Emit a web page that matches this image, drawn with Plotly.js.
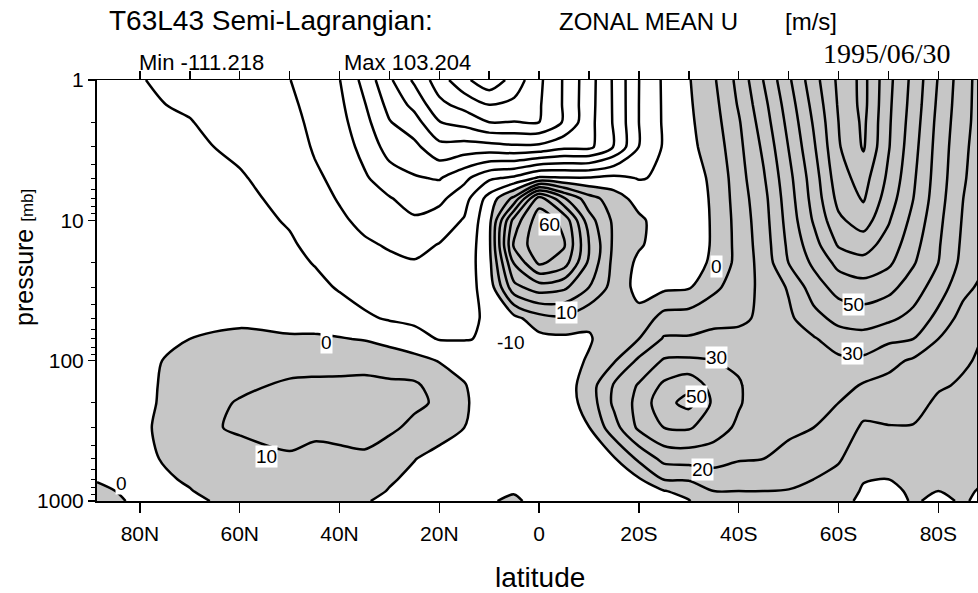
<!DOCTYPE html>
<html>
<head>
<meta charset="utf-8">
<script src="https://cdn.plot.ly/plotly-3.0.1.min.js"></script>
<style>
html,body{margin:0;padding:0;background:#fff;}
#chart{width:978px;height:593px;}
</style>
</head>
<body>
<div id="chart"></div>
<script>
// ---- data ----
const latitudes = [88.6, 80, 70, 60, 50, 45, 40, 35, 30, 25, 20, 15, 10, 5, 0, -5, -10, -15, -20, -25, -30, -35, -40, -45, -50, -55, -60, -65, -70, -75, -80, -85, -88.6];
const pressureLevels = [1, 1.5, 2, 3, 5, 7, 10, 15, 20, 30, 50, 70, 100, 150, 200, 300, 500, 700, 850, 1000];

// zonal mean U [m/s]; one array per pressure level, values ordered as latitudes
const u1mb    = [-6.5,-9.6,-12.9,-16.4,-19.8,-24.6,-29.7,-43.2,-58.3,-71.8,-85.1,-97.6,-107,-96,-82,-69,-54.2,-38.6,-20.1,-8.5,-0.7,8.7,23,40.4,58.2,76,92,103,82.8,67,49.3,34,26];
const u1p5mb  = [-6.3,-9,-10.9,-14.6,-18.2,-23.2,-27.8,-39.3,-53.1,-62.8,-77.6,-83.4,-90,-87.6,-81,-69,-53.8,-38.8,-20,-8.7,-1.3,7,21,37,55,73,91,103,82,66,48,33.5,26];
const u2mb    = [-6,-8.5,-9.7,-13.3,-17.1,-22.2,-26.5,-36.8,-49.4,-55.9,-69.7,-73.3,-80,-79.7,-80,-69,-53.3,-39,-20,-8.8,-1.8,6,19,35,53,71,90,102,81.5,65,47,33,26];
const u3mb    = [-5.7,-8,-8.6,-11.5,-15.5,-20.9,-24.6,-33.2,-43.9,-47.5,-57,-55.8,-56.2,-58.1,-57.6,-52.6,-52.5,-39.5,-19.8,-9,-2.3,4,17.5,32,50.3,68.5,89,101,80.8,63.5,46,32,25.5];
const u5mb    = [-5.3,-7.2,-7.2,-9.3,-13.5,-18.5,-22.3,-28.7,-35.5,-39.1,-40.8,-32.5,-21.7,-17.9,-8.3,-9.2,-9.2,-7.5,-10.5,-9,-2.7,1.2,16,29,47,65,86,94,78,61.5,45,31,25];
const u7mb    = [-5,-6.6,-6.3,-8.1,-12.2,-16.6,-20.7,-25.5,-29.3,-34,-32.4,-23.9,-6,12.9,55,31.4,14,5,-4,-7,-3,0.8,15,27,45.5,63.5,83,91,75,60,44,30,24.5];
const u10mb   = [-4.7,-6,-5.3,-6.8,-10.8,-14.5,-18.5,-22.2,-25.3,-28.7,-25.5,-19.2,-3,44,66,57,24,8,2,-5,-3,0.6,14,26,44,61,78,85,71,57,42.5,29,24];
const u15mb   = [-4.4,-5.4,-4.2,-5.3,-8.9,-12.2,-15.7,-18.7,-20.8,-23,-19.5,-17.3,-2,52,67,61,30,8,1,-4,-3,0.6,13.5,25,42,56,71,74,66,53.5,41,28,23];
const u20mb   = [-4.2,-5,-3.4,-4.2,-7.2,-10.5,-13.7,-16.5,-18.3,-19.3,-17.7,-15.9,-3,41,62,55,28,7,-2,-3.5,-2.5,1,13.5,24,40.2,52,63,67,62,51,40,27,22];
const u30mb   = [-4,-4.4,-2.3,-2.7,-4.8,-7.3,-10.9,-13.4,-15,-16,-15.2,-14,-6,27,35,32,20,6,-3,-2,-1,8,14.5,23,31,45,54,56,53,45,35,23,18];
const u50mb   = [-3.8,-3.6,-0.9,-0.9,-1.8,-3,-5.1,-8.7,-10.8,-11.9,-12.1,-11.6,-9,-3,6,8,2,5,3,14,15,17,18,22,28,36.5,43,45,42,37,27,16,12];
const u70mb   = [-3.6,-3,0,1,0.6,1,0.5,-0.5,-3.5,-6.7,-10.5,-10.5,-9,-3,-3,-2,-1,6,10,21,21,23,23,22,27,29,35,36,32,30,20,13,10];
const u100mb  = [-3.4,-2,2.5,4.2,6,6.3,6.6,6.5,6,3.2,-0.5,-3,-7,-4,-5,-4,1,9,22,31,31.5,30,28,23,26,27,28,28,23,18.5,14,11,9];
const u150mb  = [-3.2,-2.5,4.5,8,11.5,12,12,12.5,11.5,11.5,6,0.5,-5,-4.5,-6,-5,5,21,31,42,47,36,31,24,25,25,24,19,17,15,11,9,8];
const u200mb  = [-3,-2.7,5.5,10.8,13,13.5,14,14.5,13,12,8.5,1,-4,-4.5,-6,-5,4,22,33,47,53,38,31,24,24,23,20,14,14,13,8.5,7.5,7];
const u300mb  = [-2.8,-2.5,8,11,13,12,12.5,13.5,12,7.5,4,0,-3,-4,-5,-4,-0.2,16,32,40,41,35,28,23,22,20,16,8.5,9.5,9.5,6,6,5.5];
const u500mb  = [-2,-2.8,4.5,7,9,7.5,8,8.5,4,0.3,-3,-3,-2.5,-3,-4,-3,-1,-1,12,23,24,24,21,20,17,15,11,4,4,5,3,4,3];
const u700mb  = [-0.5,-1.5,0.5,4,6,5,6,5,1,-2,-4,-4,-2,-2,-3,-2,-1,-2,-1,10.5,11,15,13,13,13,10,7,0.5,0,2.5,1.5,2,0.5];
const u850mb  = [1.5,-2,-0.2,2.5,4,3.5,4.5,3,-0.5,-2.5,-4,-4,-1,-0.5,-2,-1.5,-1,-2,-2,-0.5,3,10,10,10,9.5,8,5,-1,-1.5,1,0,1,-0.5];
const u1000mb = [3,-1.5,-1,1.5,2.5,2.5,3,0.5,-1.5,-2.5,-4,-4,-0.5,1,-2,-1,-1,-2,-2,-2,-0.5,7,8,8,7,5,3,-2,-2,0.5,-1,0.5,-1];

const latTickVals = [80, 60, 40, 20, 0, -20, -40, -60, -80];
const latTickText = ['80N', '60N', '40N', '20N', '0', '20S', '40S', '60S', '80S'];
const topTickVals = [80, 70, 60, 50, 40, 30, 20, 10, 0, -10, -20, -30, -40, -50, -60, -70, -80];
const pTickVals = [1, 10, 100, 1000];
const pTickText = ['1', '10', '100', '1000'];
const pMinorVals = [2,3,4,5,6,7,8,9,20,30,40,50,60,70,80,90,200,300,400,500,600,700,800,900];

// contour labels: [text, latitude, pressure]
const contourLabels = [
  ['60', -2, 10.7], ['10', -5.4, 45.5], ['0', -35.5, 21.4], ['-10', 5.8, 74.5],
  ['0', 42.7, 74.5], ['10', 54.7, 484], ['0', 83.6, 755],
  ['30', -35.5, 95], ['50', -31.5, 181], ['20', -32.7, 600],
  ['50', -63.1, 40], ['30', -62.7, 89]
];

const zMatrix = [u1mb,u1p5mb,u2mb,u3mb,u5mb,u7mb,u10mb,u15mb,u20mb,u30mb,u50mb,u70mb,u100mb,u150mb,u200mb,u300mb,u500mb,u700mb,u850mb,u1000mb];

// ---- styling ----
const FONT = 'Liberation Sans, Arial, Helvetica, sans-serif';
const SHADE = '#c6c6c6';
const cStart = -110, cEnd = 110, cSize = 10;
// Plotly fill colour map domain: value v -> (v - (start - size)) / (nc * size)
const nc = Math.floor((cEnd - cStart) / cSize) + 1;
const zeroPos = (0 - (cStart - cSize)) / (nc * cSize);

const L = 97, R = 1, T = 80, B = 92, W = 978, H = 593;
const PW = W - L - R, PH = H - T - B;
function px(x) { return (x - L) / PW; }
function py(y) { return (H - B - y) / PH; }

const traces = [
  {
    type: 'contour',
    x: latitudes,
    y: pressureLevels,
    z: zMatrix,
    autocontour: false,
    contours: {start: cStart, end: cEnd, size: cSize, coloring: 'fill', showlines: true, showlabels: false},
    colorscale: [[0, '#ffffff'], [zeroPos, '#ffffff'], [zeroPos, SHADE], [1, SHADE]],
    showscale: false,
    line: {color: '#000000', width: 2.5, smoothing: 0.8},
    hoverinfo: 'skip'
  },
  {type: 'scatter', x: [], y: [], xaxis: 'x2', yaxis: 'y', showlegend: false, hoverinfo: 'skip'}
];

const annotations = [];
contourLabels.forEach(function (c) {
  annotations.push({
    text: c[0], x: c[1], y: Math.log10(c[2]), xref: 'x', yref: 'y',
    showarrow: false, bgcolor: '#ffffff', borderpad: 0,
    font: {family: FONT, size: 19, color: '#000'}
  });
});
function addText(text, x, y, size, opts) {
  annotations.push(Object.assign({
    text: text, x: px(x), y: py(y), xref: 'paper', yref: 'paper',
    showarrow: false, xanchor: 'center', yanchor: 'middle',
    font: {family: FONT, size: size, color: '#000'}
  }, opts || {}));
}
addText('T63L43 Semi-Lagrangian:', 107, 21, 28, {xanchor: 'left'});
addText('ZONAL MEAN U', 648, 22, 24);
addText('[m/s]', 811, 22, 24);
addText('1995/06/30', 887, 53, 28, {font: {family: 'Liberation Serif, Times New Roman, serif', size: 28, color: '#000'}});
addText('Min -111.218', 201, 62, 22);
addText('Max 103.204', 407, 62, 22);
addText('latitude', 540, 577, 28);
addText('pressure <span style="font-size:17px">[mb]</span>', 24, 258, 25, {textangle: -90});

const layout = {
  width: W, height: H,
  margin: {l: L, r: R, t: T, b: B, pad: 0},
  paper_bgcolor: '#ffffff', plot_bgcolor: '#ffffff',
  showlegend: false,
  font: {family: FONT, color: '#000'},
  xaxis: {
    range: [88.6, -87.75], autorange: false,
    tickmode: 'array', tickvals: latTickVals, ticktext: latTickText,
    ticks: 'outside', ticklen: 10, tickwidth: 1.5, tickcolor: '#000',
    ticklabelstandoff: 3,
    tickfont: {family: FONT, size: 21, color: '#000'},
    showline: true, linecolor: '#000', linewidth: 1.5, mirror: true,
    showgrid: false, zeroline: false
  },
  xaxis2: {
    overlaying: 'x', side: 'top', anchor: 'y',
    range: [88.6, -87.75], autorange: false,
    tickmode: 'array', tickvals: topTickVals, showticklabels: false,
    ticks: 'outside', ticklen: 8, tickwidth: 1.5, tickcolor: '#000',
    showline: false, showgrid: false, zeroline: false
  },
  yaxis: {
    type: 'log', range: [3, 0], autorange: false,
    tickmode: 'array', tickvals: pTickVals, ticktext: pTickText,
    ticks: 'outside', ticklen: 7, tickwidth: 1.5, tickcolor: '#000',
    tickfont: {family: FONT, size: 21, color: '#000'},
    minor: {tickmode: 'array', tickvals: pMinorVals, ticks: 'outside', ticklen: 4, tickwidth: 1, tickcolor: '#000', showgrid: false},
    showline: true, linecolor: '#000', linewidth: 2, mirror: true,
    showgrid: false, zeroline: false
  },
  annotations: annotations
};

Plotly.newPlot('chart', traces, layout, {staticPlot: true, displayModeBar: false});
</script>
</body>
</html>
